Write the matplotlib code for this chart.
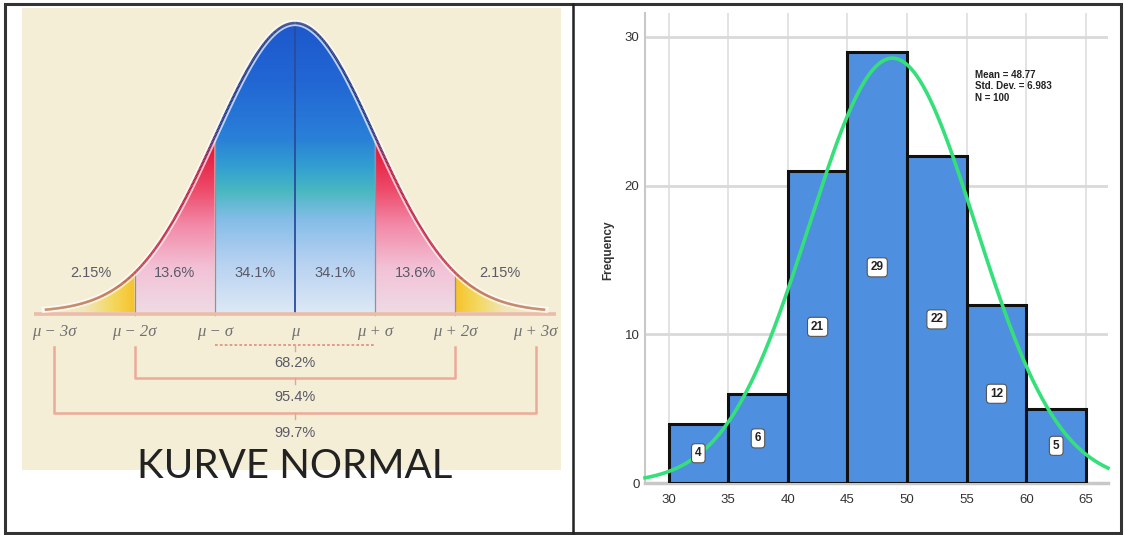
import numpy as np
import matplotlib
matplotlib.use("Agg")
import matplotlib.pyplot as plt
from matplotlib.colors import LinearSegmentedColormap
from matplotlib.collections import LineCollection
from matplotlib.patches import Rectangle, Polygon
from matplotlib.lines import Line2D

plt.rcParams['font.family'] = ['Liberation Sans', 'DejaVu Sans']

W, H = 1124, 535

# ---- left panel: normal curve illustration ----
sigma_ticks = [-3, -2, -1, 0, 1, 2, 3]
sigma_labels = ['μ − 3σ', 'μ − 2σ', 'μ − σ', 'μ', 'μ + σ', 'μ + 2σ', 'μ + 3σ']
band_pos = [-2.55, -1.5, -0.5, 0.5, 1.5, 2.55]
band_pct = ['2.15%', '13.6%', '34.1%', '34.1%', '13.6%', '2.15%']
range_k = [1, 2, 3]
range_pct = ['68.2%', '95.4%', '99.7%']
title_left = 'KURVE NORMAL'

# ---- right panel: histogram ----
bin_edges = [30, 35, 40, 45, 50, 55, 60, 65]
counts = [4, 6, 21, 29, 22, 12, 5]
mean, sd, n = 48.77, 6.983, 100


def fx(px):
    return px / W


def fy(py):
    return 1 - py / H


fig = plt.figure(figsize=(W / 100, H / 100), dpi=100)
fig.patch.set_facecolor('white')

# ================= left panel =================
axL = fig.add_axes([fx(22), fy(470), (561 - 22) / W, (470 - 8) / H])
axL.set_facecolor('#f4eed6')
axL.set_xticks([])
axL.set_yticks([])
for s in axL.spines.values():
    s.set_visible(False)

zmax = 3.12
z = np.linspace(-zmax, zmax, 800)
f = np.exp(-z ** 2 / 2)

blue = LinearSegmentedColormap.from_list('b', [
    (0.0, '#dce8f6'), (0.18, '#b4d0f0'), (0.32, '#84bde8'), (0.42, '#48b8c0'),
    (0.5, '#33a0d0'), (0.6, '#2a80d8'), (0.8, '#2266d4'), (1.0, '#1d58cc')])
red = LinearSegmentedColormap.from_list('r', [
    (0.0, '#efdae4'), (0.15, '#f2c2d6'), (0.3, '#f28aa8'), (0.42, '#ee4c6c'),
    (0.55, '#e51e40'), (1.0, '#d8123a')])
tail = LinearSegmentedColormap.from_list('t', [
    (0.0, '#f6c22a'), (0.25, '#f4d860'), (0.55, '#f0e6b8'), (1.0, '#f4eed6')])

grad_v = np.linspace(0, 1, 256).reshape(-1, 1)
grad_h = np.linspace(0, 1, 256).reshape(1, -1)


def region_patch(a, b):
    m = (z >= a) & (z <= b)
    zz = np.concatenate([[a], z[m], [b]])
    ff = np.concatenate([[0], f[m], [0]])
    p = Polygon(np.column_stack([zz, ff]), closed=True, fc='none', ec='none')
    axL.add_patch(p)
    return p


for a, b, cm in [(-1, 1, blue), (-2, -1, red), (1, 2, red)]:
    p = region_patch(a, b)
    im = axL.imshow(grad_v, extent=[a, b, 0, 1], origin='lower', cmap=cm,
                    aspect='auto', zorder=1)
    im.set_clip_path(p)

p = region_patch(2, zmax)
im = axL.imshow(grad_h, extent=[2, zmax, 0, 0.15], origin='lower', cmap=tail,
                aspect='auto', zorder=1)
im.set_clip_path(p)
p = region_patch(-zmax, -2)
im = axL.imshow(grad_h[:, ::-1], extent=[-zmax, -2, 0, 0.15], origin='lower',
                cmap=tail, aspect='auto', zorder=1)
im.set_clip_path(p)

axL.set_xlim(-3.404, 3.317)
axL.set_ylim(-0.547, 1.052)

# section dividers
for k in [-2, -1, 1, 2]:
    axL.plot([k, k], [-0.012, np.exp(-k ** 2 / 2)], color='#9090a4', lw=0.9, zorder=2)
axL.plot([0, 0], [0, 1], color='#2a4c9c', lw=1.3, zorder=2)

# baseline
axL.plot([-3.25, 3.25], [-0.006, -0.006], color='#eabcaa', lw=2.6, zorder=2,
         solid_capstyle='butt')

# outline of the curve with a soft halo
axL.plot(z, f, color='white', lw=4.5, alpha=0.7, zorder=3)
edge = LinearSegmentedColormap.from_list('e', [
    (0.0, '#1a2f7a'), (0.3, '#20388a'), (0.38, '#b81e42'), (0.6, '#c42a3c'),
    (0.7, '#b85c3c'), (1.0, '#b8744c')])
pts = np.column_stack([z, f]).reshape(-1, 1, 2)
segs = np.concatenate([pts[:-1], pts[1:]], axis=1)
lc = LineCollection(segs, colors=edge(np.abs(z[:-1]) / zmax), linewidths=1.8, zorder=4)
axL.add_collection(lc)

# percentage labels inside the bands
for x, t in zip(band_pos, band_pct):
    axL.text(x, 0.135, t, ha='center', va='center', fontsize=10.5,
             color='#5a5a68', zorder=5)

# sigma labels
for x, t in zip(sigma_ticks, sigma_labels):
    axL.text(x, -0.069, t, ha='center', va='center', fontsize=12,
             family=['Liberation Serif', 'DejaVu Serif'], style='italic',
             color='#707070', zorder=5)

# brackets
bracket_y = [-0.114, -0.228, -0.349]
text_y = [-0.176, -0.294, -0.419]
for k, yl, yt, t in zip(range_k, bracket_y, text_y, range_pct):
    if k == 1:
        axL.plot([-k, k], [yl, yl], color='#e09484', lw=1.3,
                 linestyle=(0, (1.5, 1.2)), zorder=2)
    else:
        axL.plot([-k, -k, k, k], [-0.12, yl, yl, -0.12], color='#ebaa9a',
                 lw=1.8, zorder=2)
    axL.plot([0, 0], [yl, yl - 0.022], color='#e6a494', lw=1.0, zorder=2)
    axL.text(0, yt, t, ha='center', va='center', fontsize=10.5,
             color='#5a5a68', zorder=5)

axL.text(0, -0.536, title_left, ha='center', va='center', fontsize=29,
         family=['Lato', 'DejaVu Sans'], color='#222222', clip_on=False, zorder=6)

# ================= right panel =================
axR = fig.add_axes([fx(645), fy(483), (1108 - 645) / W, (483 - 13) / H])
axR.set_xlim(28.03, 66.84)
axR.set_ylim(0, 31.6)

lefts = bin_edges[:-1]
axR.bar(lefts, counts, width=5, align='edge', color='#4f8fdf',
        edgecolor='#111111', linewidth=2.2, zorder=3)

xs = np.linspace(28.03, 66.84, 400)
ys = n * 5 * np.exp(-((xs - mean) / sd) ** 2 / 2) / (sd * np.sqrt(2 * np.pi))
axR.plot(xs, ys, color='#35e07a', lw=2.6, zorder=4, clip_on=False)

for x0, c in zip(lefts, counts):
    axR.text(x0 + 2.5, c / 2, str(c), ha='center', va='center', fontsize=8.5,
             fontweight='bold', color='#222222', zorder=5,
             bbox=dict(boxstyle='round,pad=0.3', fc='white', ec='#555555', lw=0.8))

axR.set_xticks(bin_edges)
axR.set_yticks([0, 10, 20, 30])
axR.set_axisbelow(True)
axR.grid(axis='y', color='#d9d9d9', lw=2)
axR.grid(axis='x', color='#dedede', lw=1.2)
for s in ['top', 'right']:
    axR.spines[s].set_visible(False)
axR.spines['left'].set_color('#c8c8c8')
axR.spines['left'].set_linewidth(1.5)
axR.spines['bottom'].set_color('#c8c8c8')
axR.spines['bottom'].set_linewidth(2.5)
axR.tick_params(axis='both', length=0, labelsize=9.5, colors='#333333')
axR.tick_params(axis='x', pad=8)
axR.tick_params(axis='y', pad=4)

axR.text(-0.08, 0.495, 'Frequency', transform=axR.transAxes, rotation=90,
         ha='center', va='center', fontsize=8.5, fontweight='bold', color='#333333')

axR.text(55.7, 27.8, f'Mean = {mean}\nStd. Dev. = {sd}\nN = {n}', ha='left',
         va='top', fontsize=7, fontweight='bold', linespacing=1.2,
         color='#222222', zorder=5)

# ================= frame =================
fig.add_artist(Rectangle((fx(5), fy(533)), (1121 - 5) / W, (533 - 4) / H,
                         transform=fig.transFigure, fill=False, ec='#333333', lw=2.2))
fig.add_artist(Line2D([fx(572.5), fx(572.5)], [fy(4), fy(533)],
                      transform=fig.transFigure, color='#222222', lw=1.8))

fig.savefig('out.png', dpi=100)
